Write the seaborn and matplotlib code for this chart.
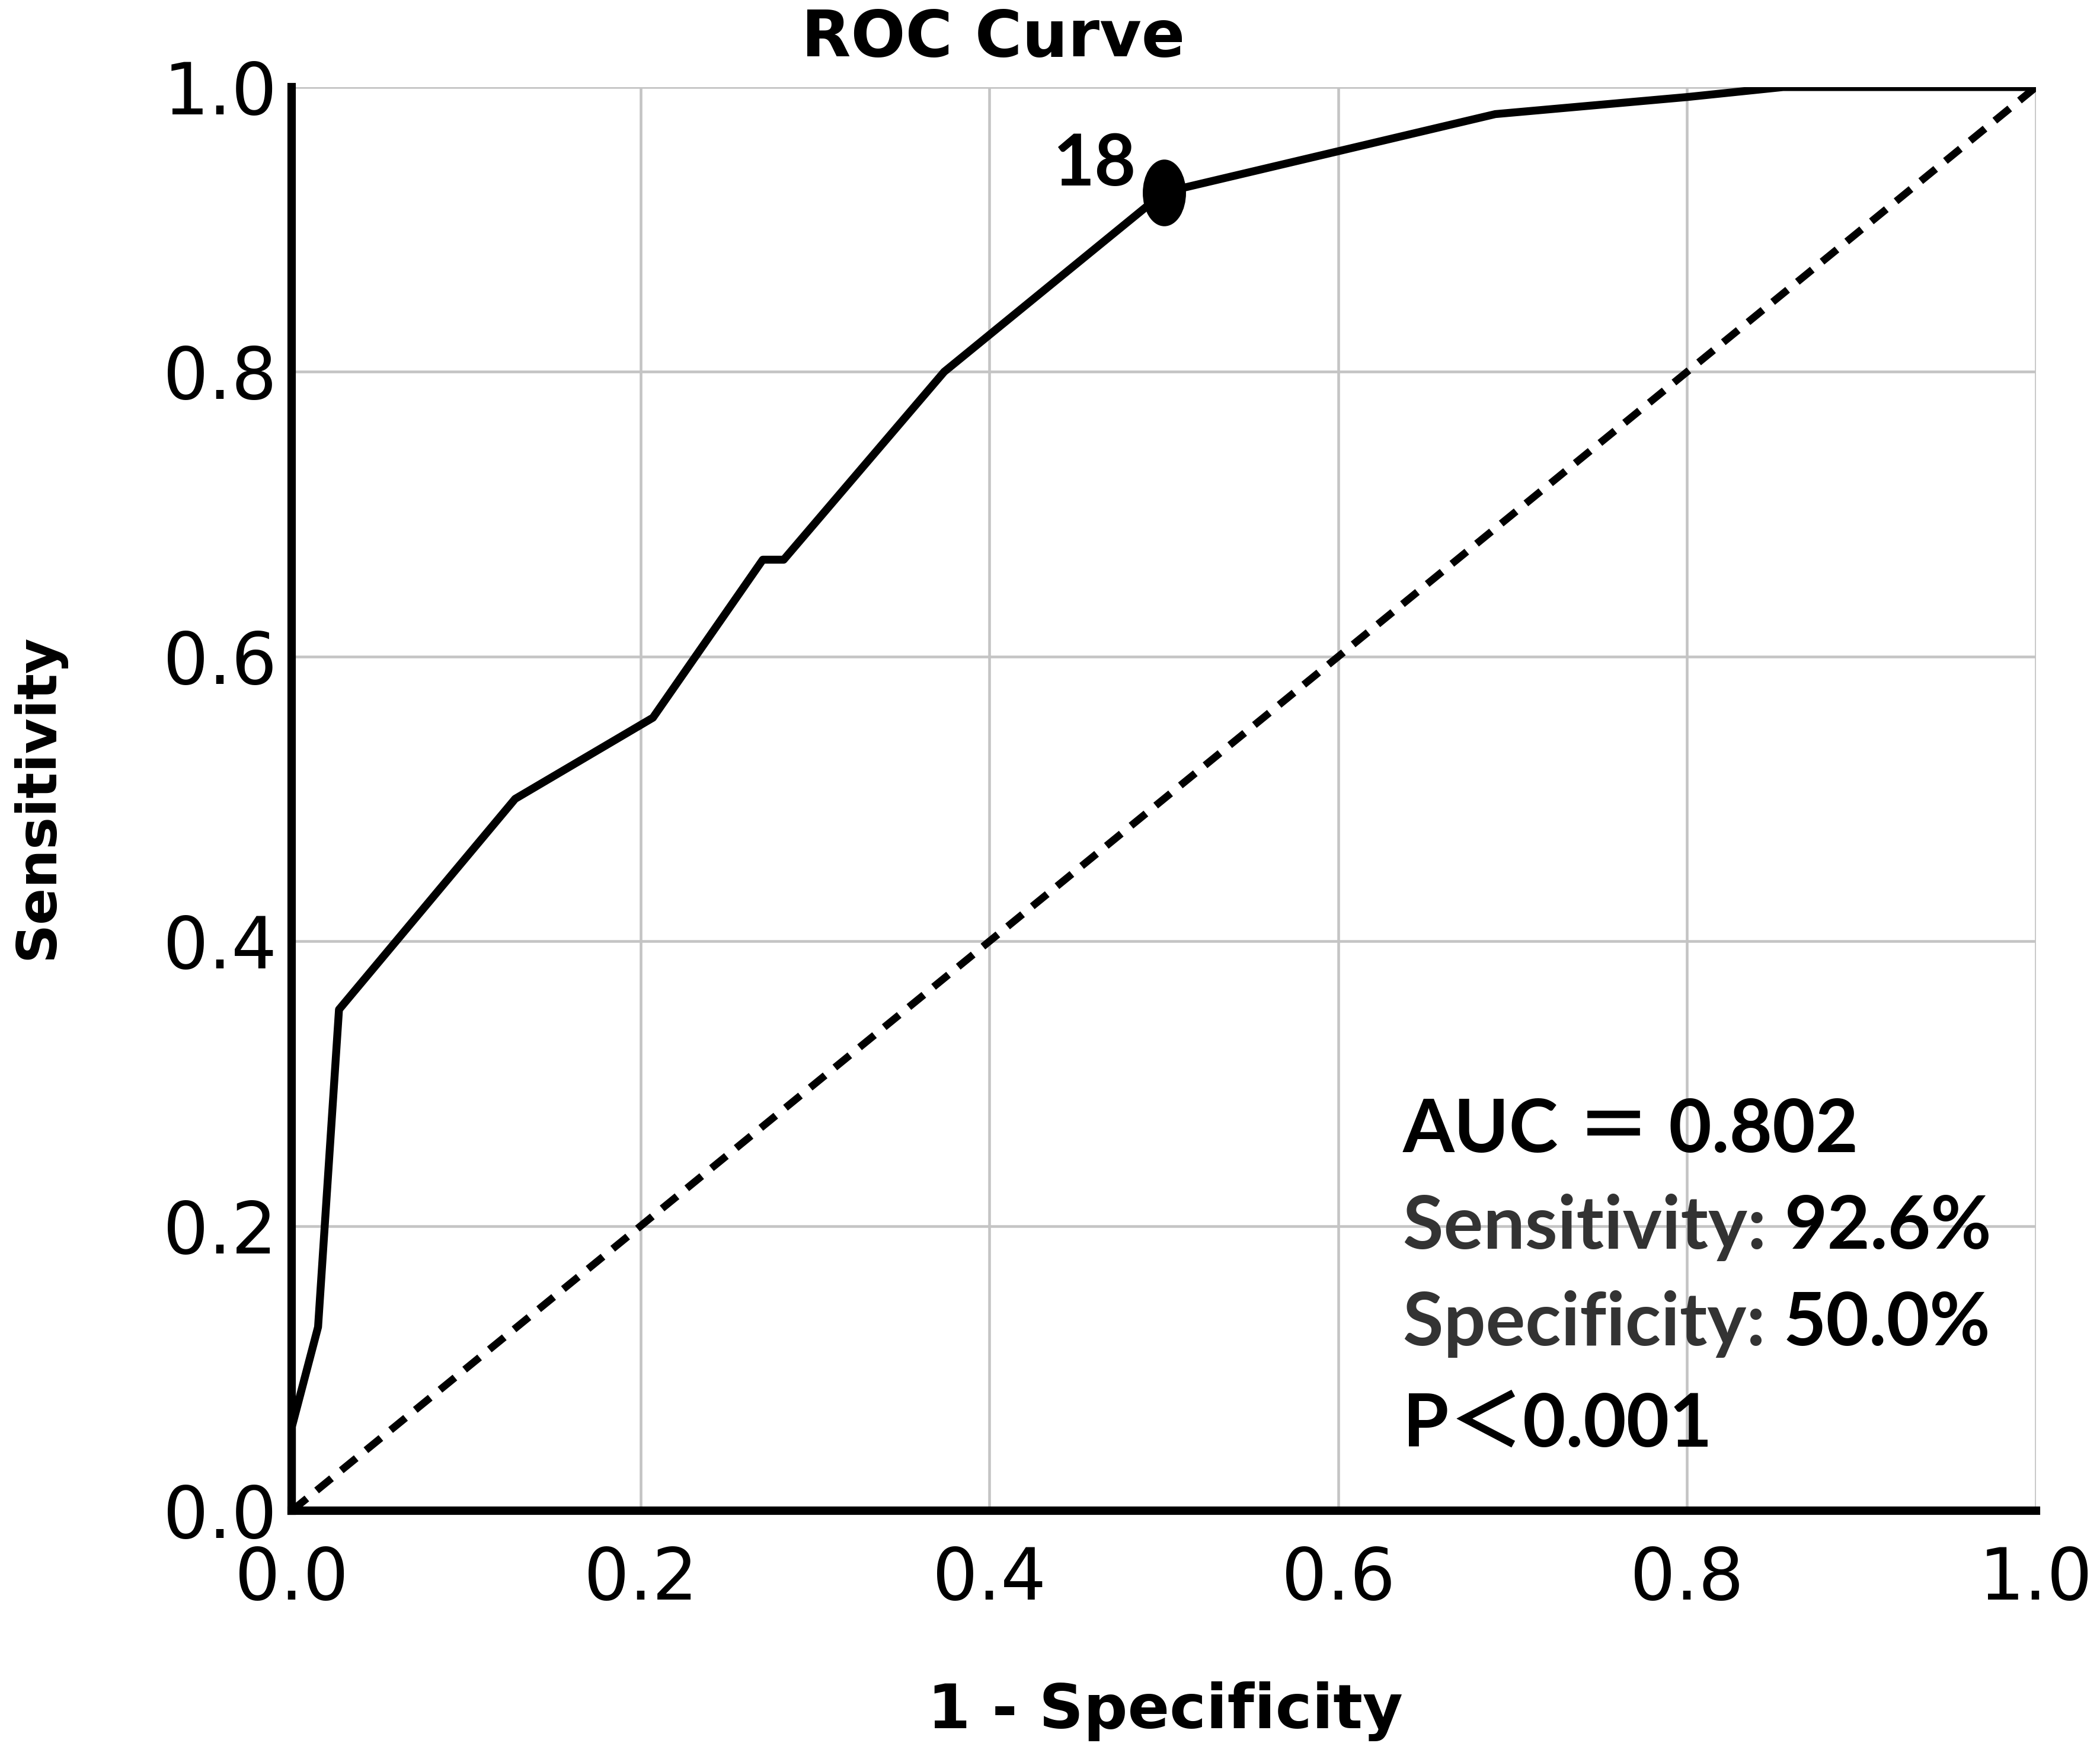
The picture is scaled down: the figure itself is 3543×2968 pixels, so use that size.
import numpy as np
import pandas as pd
import matplotlib.pyplot as plt
import seaborn as sns
from matplotlib.path import Path
from matplotlib.transforms import offset_copy

sns.set_style("whitegrid")
plt.rcParams['font.family'] = ['DejaVu Sans']
plt.rcParams['text.color'] = 'black'

# ROC curve points
fpr = [0.0, 0.0, 0.015, 0.027, 0.128, 0.207, 0.27, 0.282, 0.374, 0.50, 0.69, 0.80, 0.855, 1.0]
tpr = [0.0, 0.059, 0.129, 0.352, 0.50, 0.557, 0.668, 0.668, 0.80, 0.926, 0.981, 0.993, 1.0, 1.0]
ref_x = [0.0, 1.0]
ref_y = [0.0, 1.0]

cut_x = [0.50]
cut_y = [0.926]
cut_label = "18"

ticks = [0.0, 0.2, 0.4, 0.6, 0.8, 1.0]
tick_labels = ["0.0", "0.2", "0.4", "0.6", "0.8", "1.0"]

stats = [("AUC ", "＝ 0.802"), ("Sensitivity: ", "92.6%"), ("Specificity: ", "50.0%"), ("P", "＜0.001")]

roc = pd.DataFrame({"fpr": fpr, "tpr": tpr})

fig = plt.figure(figsize=(3543 / 300, 2968 / 300), dpi=300)
ax = fig.add_axes([0.139, 0.1412, 0.8305, 0.8093])

sns.lineplot(data=roc, x="fpr", y="tpr", sort=False, estimator=None,
             color="black", linewidth=3.2, ax=ax, zorder=3)
sns.lineplot(x=ref_x, y=ref_y, color="black", linewidth=3.0,
             dashes=False, ax=ax, zorder=2).lines[-1].set_dashes((2.6, 1.7))

# tall ellipse marker at the cut-off point
circ = Path.unit_circle()
ell = Path(circ.vertices * np.array([0.62, 1.0]), circ.codes)
sns.scatterplot(x=cut_x, y=cut_y, marker=ell, s=25 ** 2, color="black",
                edgecolor="black", ax=ax, zorder=4)
ax.text(cut_x[0] - 0.04, cut_y[0] + 0.005, cut_label, ha="center", va="baseline",
        fontsize=29, fontweight="bold", family=["Lato", "DejaVu Sans"], zorder=5)

ax.set_xlim(0, 1)
ax.set_ylim(0, 1)
ax.set_xticks(ticks)
ax.set_yticks(ticks)
ax.set_xticklabels(tick_labels)
ax.set_yticklabels(tick_labels)
ax.tick_params(axis="both", length=0, labelsize=29, colors="black")
ax.tick_params(axis="x", pad=14)
ax.tick_params(axis="y", pad=6)
ax.grid(True, color="#c4c4c4", linewidth=1.1)
for s in ["top", "right"]:
    ax.spines[s].set_visible(False)
for s in ["left", "bottom"]:
    ax.spines[s].set_color("black")
    ax.spines[s].set_linewidth(3.4)
    ax.spines[s].set_zorder(6)
ax.set_xlabel("")
ax.set_ylabel("")

fig.text(0.473, 0.978, "ROC Curve", ha="center", va="center", fontsize=26, fontweight="bold")
fig.text(0.555, 0.027, "1 - Specificity", ha="center", va="center", fontsize=25, fontweight="bold")
fig.text(0.018, 0.547, "Sensitivity", ha="center", va="center", rotation=90, fontsize=22, fontweight="bold")

# statistics block, label part and value part
fam = ["Lato", "Noto Sans CJK SC", "DejaVu Sans"]
rows_y = [0.252, 0.184, 0.116, 0.045]
label_colors = ["black", "#333333", "#333333", "black"]
fig.canvas.draw()
renderer = fig.canvas.get_renderer()
for (lab, val), yy, c in zip(stats, rows_y, label_colors):
    t = ax.text(0.637, yy, lab, color=c, fontsize=30, fontweight="bold", family=fam,
                ha="left", va="baseline", zorder=5)
    w = t.get_window_extent(renderer).width * 72 / fig.dpi
    tr = offset_copy(ax.transData, fig=fig, x=w, y=0, units="points")
    ax.text(0.637, yy, val, color="black", fontsize=30, fontweight="bold", family=fam,
            ha="left", va="baseline", transform=tr, zorder=5)

fig.savefig("out.png", dpi=300)
